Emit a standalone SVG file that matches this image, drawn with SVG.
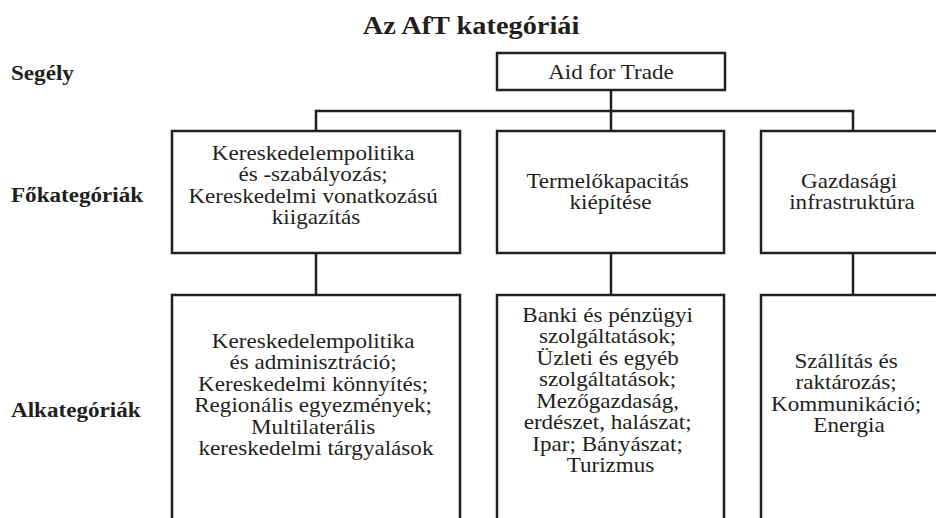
<svg xmlns="http://www.w3.org/2000/svg" width="936" height="518" viewBox="0 0 936 518">
  <style>
    .box { fill: #ffffff; stroke: #231f20; stroke-width: 2.5; }
    .conn { fill: none; stroke: #231f20; stroke-width: 2.5; }
    .t { font-family: "Liberation Serif", "Times New Roman", serif; font-size: 21px; fill: #231f20; text-anchor: middle; }
    .lbl { font-family: "Liberation Serif", "Times New Roman", serif; font-size: 21px; font-weight: bold; fill: #231f20; text-anchor: start; }
    .title { font-family: "Liberation Serif", "Times New Roman", serif; font-size: 26px; font-weight: bold; fill: #231f20; text-anchor: middle; }
  </style>
  <rect width="936" height="518" fill="#ffffff"/>

  <text class="title" transform="translate(471 0) scale(1.09 1)" x="0" y="34">Az AfT kategóriái</text>

  <g id="level-labels">
    <text class="lbl" transform="translate(11 0) scale(1.1 1)" x="0" y="80">Segély</text>
    <text class="lbl" transform="translate(11 0) scale(1.1 1)" x="0" y="202">Főkategóriák</text>
    <text class="lbl" transform="translate(11 0) scale(1.1 1)" x="0" y="417">Alkategóriák</text>
  </g>

  <g id="connectors">
    <path class="conn" d="M611 90 V111"/>
    <path class="conn" d="M316 131 V111 H853 V131"/>
    <path class="conn" d="M611 111 V131"/>
    <path class="conn" d="M316 253 V295"/>
    <path class="conn" d="M611 253 V295"/>
    <path class="conn" d="M853 253 V295"/>
  </g>

  <g id="aid-for-trade">
    <rect class="box" x="497" y="53" width="228" height="37"/>
    <text class="t" transform="translate(611 0) scale(1.1 1)" x="0" y="79">Aid for Trade</text>
  </g>

  <g id="main-policy">
    <rect class="box" x="172" y="131" width="288" height="122"/>
    <text class="t" transform="translate(316 0) scale(1.1 1)">
      <tspan x="0" y="160">Kereskedelempolitika</tspan>
      <tspan x="0" y="181.5">és -szabályozás;</tspan>
      <tspan x="0" y="203">Kereskedelmi vonatkozású</tspan>
      <tspan x="0" y="224.5">kiigazítás</tspan>
    </text>
  </g>

  <g id="main-productive">
    <rect class="box" x="497" y="131" width="227" height="122"/>
    <text class="t" transform="translate(610.5 0) scale(1.1 1)">
      <tspan x="0" y="188">Termelőkapacitás</tspan>
      <tspan x="0" y="209.5">kiépítése</tspan>
    </text>
  </g>

  <g id="main-infrastructure">
    <rect class="box" x="761" y="131" width="184" height="122"/>
    <text class="t" transform="translate(852 0) scale(1.1 1)">
      <tspan x="0" y="188">Gazdasági</tspan>
      <tspan x="0" y="209.5">infrastruktúra</tspan>
    </text>
  </g>

  <g id="sub-policy">
    <rect class="box" x="172" y="295" width="288" height="240"/>
    <text class="t" transform="translate(316 0) scale(1.1 1)">
      <tspan x="0" y="348">Kereskedelempolitika</tspan>
      <tspan x="0" y="369.5">és adminisztráció;</tspan>
      <tspan x="0" y="391">Kereskedelmi könnyítés;</tspan>
      <tspan x="0" y="412.5">Regionális egyezmények;</tspan>
      <tspan x="0" y="434">Multilaterális</tspan>
      <tspan x="0" y="455.5">kereskedelmi tárgyalások</tspan>
    </text>
  </g>

  <g id="sub-productive">
    <rect class="box" x="497" y="295" width="227" height="240"/>
    <text class="t" transform="translate(610.5 0) scale(1.1 1)">
      <tspan x="0" y="322">Banki és pénzügyi</tspan>
      <tspan x="0" y="343.5">szolgáltatások;</tspan>
      <tspan x="0" y="365">Üzleti és egyéb</tspan>
      <tspan x="0" y="386.5">szolgáltatások;</tspan>
      <tspan x="0" y="408">Mezőgazdaság,</tspan>
      <tspan x="0" y="429.5">erdészet, halászat;</tspan>
      <tspan x="0" y="451">Ipar; Bányászat;</tspan>
      <tspan x="0" y="472.5">Turizmus</tspan>
    </text>
  </g>

  <g id="sub-infrastructure">
    <rect class="box" x="761" y="295" width="184" height="240"/>
    <text class="t" transform="translate(849 0) scale(1.1 1)">
      <tspan x="0" y="368">Szállítás és</tspan>
      <tspan x="0" y="389.5">raktározás;</tspan>
      <tspan x="0" y="411">Kommunikáció;</tspan>
      <tspan x="0" y="432.5">Energia</tspan>
    </text>
  </g>
</svg>
